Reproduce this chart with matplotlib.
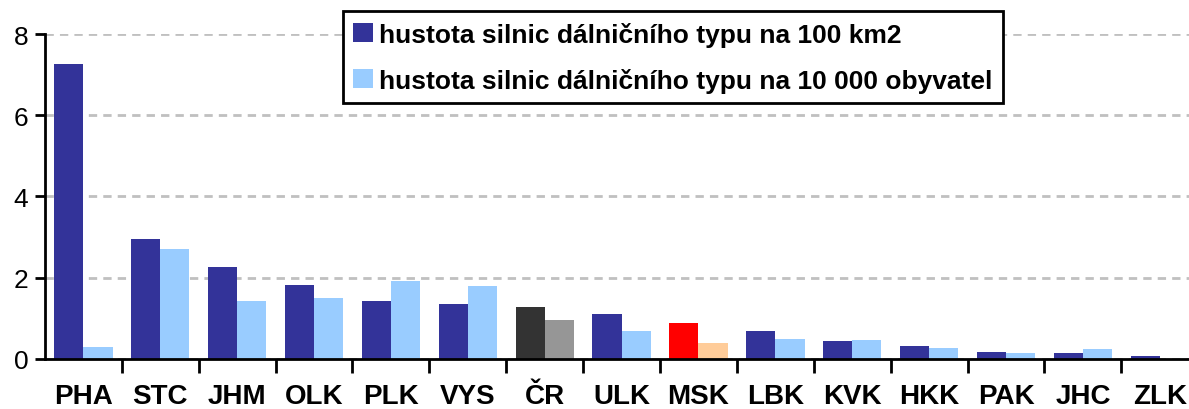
import matplotlib.pyplot as plt
import numpy as np

plt.rcParams['font.family'] = ['Liberation Sans', 'DejaVu Sans']

kraje = ['PHA', 'STC', 'JHM', 'OLK', 'PLK', 'VYS', 'ČR', 'ULK',
         'MSK', 'LBK', 'KVK', 'HKK', 'PAK', 'JHC', 'ZLK']
na_plochu = [7.26, 2.95, 2.26, 1.82, 1.43, 1.35, 1.28, 1.11,
             0.89, 0.69, 0.44, 0.32, 0.17, 0.15, 0.07]
na_obyvatele = [0.29, 2.71, 1.43, 1.50, 1.92, 1.80, 0.96, 0.69,
                0.39, 0.49, 0.47, 0.27, 0.15, 0.25, 0.0]

lbl_plocha = 'hustota silnic dálničního typu na 100 km2'
lbl_obyv = 'hustota silnic dálničního typu na 10 000 obyvatel'

# barvy: CR sede, MSK zvyraznene
barva1 = []
barva2 = []
for k in kraje:
    if k == 'ČR':
        barva1.append('#333333')
        barva2.append('#969696')
    elif k == 'MSK':
        barva1.append('#FF0000')
        barva2.append('#FFCC99')
    else:
        barva1.append('#333399')
        barva2.append('#99CCFF')

fig = plt.figure(figsize=(11.89, 4.10), dpi=100)
ax = fig.add_axes([0.0378, 0.122, 0.97, 0.7926])

x = np.arange(len(kraje))
w = 0.38
ax.bar(x - 0.19, na_plochu, w, color=barva1, label=lbl_plocha, zorder=3)
ax.bar(x + 0.19, na_obyvatele, w, color=barva2, label=lbl_obyv, zorder=3)

ax.set_xlim(-0.5, len(kraje) - 0.5)
ax.set_ylim(0, 8)
ax.set_yticks([0, 2, 4, 6, 8])
ax.tick_params(axis='y', labelsize=19, length=7, width=2, pad=5)

ax.set_xticks(x)
ax.set_xticklabels(kraje, fontsize=20, fontweight='bold')
ax.set_xticks(np.arange(len(kraje)) + 0.5, minor=True)
ax.tick_params(axis='x', which='major', length=0, pad=17)
ax.tick_params(axis='x', which='minor', length=10, width=2)

ax.yaxis.grid(True, color='#C0C0C0', linestyle=(0, (3, 2.2)), linewidth=2, zorder=0)
for s in ['top', 'right']:
    ax.spines[s].set_visible(False)
ax.spines['left'].set_linewidth(2)
ax.spines['bottom'].set_linewidth(2)
ax.spines['bottom'].set_zorder(4)

leg = ax.legend(loc='upper left', bbox_to_anchor=(0.258, 1.07), borderaxespad=0,
                prop={'weight': 'bold', 'size': 19}, frameon=True, fancybox=False,
                edgecolor='black', framealpha=1, handlelength=0.75, handleheight=0.75,
                handletextpad=0.25, labelspacing=0.8, borderpad=0.4)
leg.get_frame().set_linewidth(2)

fig.savefig('out.png', dpi=100)
